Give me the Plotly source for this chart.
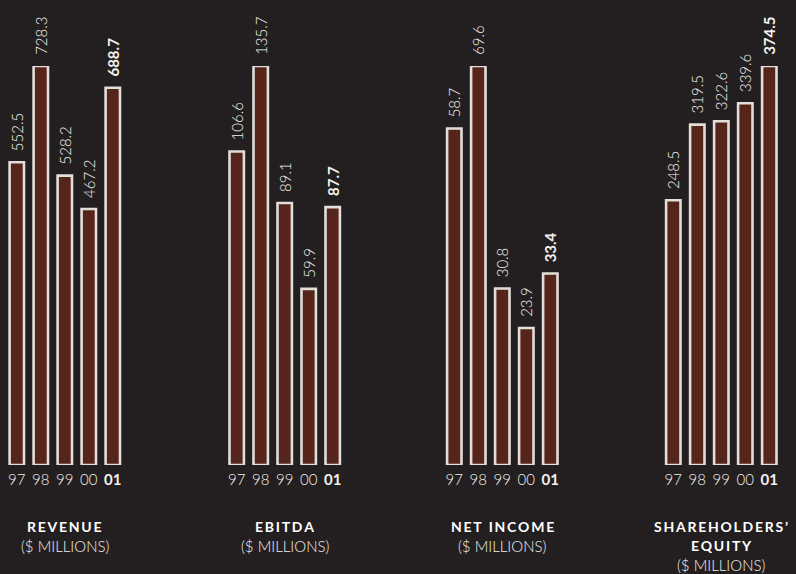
import plotly.graph_objects as go

years = ["97", "98", "99", "00", "01"]
year_labels = ["97", "98", "99", "00", "<b>01</b>"]
revenue = [552.5, 728.3, 528.2, 467.2, 688.7]
ebitda = [106.6, 135.7, 89.1, 59.9, 87.7]
net_income = [58.7, 69.6, 30.8, 23.9, 33.4]
equity = [248.5, 319.5, 322.6, 339.6, 374.5]

titles = [
    ["REVENUE"],
    ["EBITDA"],
    ["NET INCOME"],
    ["SHAREHOLDERS\u2019", "EQUITY"],
]
subtitle = "($ MILLIONS)"
series = [revenue, ebitda, net_income, equity]

BG = "#231f20"
FILL = "#55241b"
EDGE = "#e2deda"
TXT = "#f4f1ee"
W, H = 796, 574

# panel pixel extents (left, right)
panels_px = [(4.8, 124.8), (224.7, 344.7), (442.3, 562.3), (661.3, 781.3)]
y_bottom_px, y_top_px = 465, 66

fig = go.Figure()

def spaced(s):
    return "\u2009".join(list(s))

for i, vals in enumerate(series):
    n = i + 1
    texts = []
    for j, v in enumerate(vals):
        t = f"{v:.1f}"
        if j == len(vals) - 1:
            t = f"<b>{t}</b>"
        texts.append("\u00a0\u00a0" + t)
    fig.add_trace(go.Bar(
        x=years, y=vals, text=texts,
        textposition="outside", textangle=-90, constraintext="none",
        cliponaxis=False,
        textfont=dict(family="Lato", size=15, color=TXT, weight=300),
        marker=dict(color=FILL, line=dict(color=EDGE, width=2.6)),
        xaxis=f"x{n}" if n > 1 else "x", yaxis=f"y{n}" if n > 1 else "y",
        hoverinfo="skip", showlegend=False,
    ))
    l, r = panels_px[i]
    xa = dict(domain=[l / W, r / W], type="category", showgrid=False,
              zeroline=False, showline=False, ticks="",
              tickvals=years, ticktext=year_labels, ticklabelstandoff=4,
              tickfont=dict(family="Lato", size=15, color=TXT, weight=300),
              anchor=f"y{n}" if n > 1 else "y", fixedrange=True)
    ya = dict(domain=[(H - y_bottom_px) / H, (H - y_top_px) / H],
              range=[0, max(vals)], visible=False, showgrid=False,
              zeroline=False, anchor=f"x{n}" if n > 1 else "x", fixedrange=True)
    fig.layout[f"xaxis{n}" if n > 1 else "xaxis"] = xa
    fig.layout[f"yaxis{n}" if n > 1 else "yaxis"] = ya

    cx = (l + r) / 2 / W
    lines = titles[i]
    ypix = 526
    for line in lines:
        fig.add_annotation(x=cx, y=(H - ypix) / H, xref="paper", yref="paper",
                           text=f"<b>{spaced(line)}</b>", showarrow=False,
                           xanchor="center", yanchor="middle",
                           font=dict(family="Lato", size=14, color="#ffffff"))
        ypix += 19.5
    fig.add_annotation(x=cx, y=(H - ypix) / H, xref="paper", yref="paper",
                       text=subtitle, showarrow=False,
                       xanchor="center", yanchor="middle",
                       font=dict(family="Lato", size=15, color=TXT, weight=300))

fig.update_layout(
    width=W, height=H, margin=dict(l=0, r=0, t=0, b=0),
    paper_bgcolor=BG, plot_bgcolor=BG, bargap=0.4,
)

fig.write_html(
    "out.html",
    config={"displayModeBar": False, "staticPlot": True},
    post_script="document.body.style.margin='0';document.body.style.background='#231f20';",
)
